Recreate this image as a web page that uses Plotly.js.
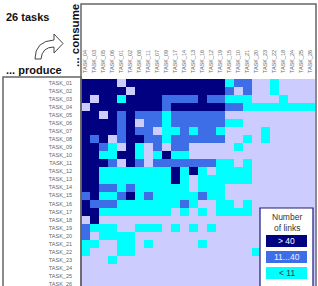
<!DOCTYPE html>
<html><head><meta charset="utf-8">
<script src="https://cdn.plot.ly/plotly-3.0.1.min.js"></script>
<style>html,body{margin:0;padding:0;overflow:hidden;background:#fff}</style>
</head><body><div id="chart" style="width:318px;height:290px"></div>
<script>
// consumers (columns), producers (rows)
const consumers = ['TASK_04','TASK_03','TASK_05','TASK_06','TASK_01','TASK_02','TASK_08','TASK_11','TASK_07','TASK_09','TASK_17','TASK_14','TASK_13','TASK_16','TASK_12','TASK_19','TASK_15','TASK_10','TASK_21','TASK_20','TASK_23','TASK_22','TASK_18','TASK_24','TASK_25','TASK_26'];
const producers = ['TASK_01','TASK_02','TASK_03','TASK_04','TASK_05','TASK_06','TASK_07','TASK_08','TASK_09','TASK_10','TASK_11','TASK_12','TASK_13','TASK_14','TASK_15','TASK_16','TASK_17','TASK_18','TASK_19','TASK_20','TASK_21','TASK_22','TASK_23','TASK_24','TASK_25','TASK_26'];
// link level: 0 = none, 1 = < 11, 2 = 11...40, 3 = > 40
const linkLevels = [
 [3,3,3,3,0,3,3,3,3,3,3,3,3,3,3,3,1,2,2,0,0,1,0,0,0,0],
 [3,3,3,3,3,0,3,3,3,3,3,3,3,3,3,3,2,0,2,0,0,1,0,0,0,0],
 [3,0,3,3,1,3,3,3,3,2,2,2,2,3,2,2,1,1,1,0,0,0,1,0,0,0],
 [0,3,3,3,3,3,3,3,3,2,3,3,3,3,3,3,2,2,1,1,1,1,1,1,1,1],
 [3,3,0,3,2,3,2,2,2,1,2,2,2,2,2,2,0,0,0,0,0,0,0,0,0,0],
 [3,3,3,3,2,3,0,2,2,1,2,2,2,2,2,2,1,1,0,0,0,0,0,0,0,0],
 [3,3,3,3,2,3,2,2,0,1,1,2,1,2,2,1,0,0,0,0,1,0,0,0,0,0],
 [3,2,3,0,2,3,3,2,2,1,2,2,2,2,2,2,0,0,1,0,1,0,0,0,0,0],
 [3,3,2,1,0,3,1,0,2,0,2,2,0,0,0,0,0,1,0,0,0,0,0,0,0,0],
 [3,3,1,1,3,3,1,0,1,3,1,1,0,0,0,0,0,0,0,0,0,0,0,0,0,0],
 [3,3,3,2,0,3,2,0,2,2,2,2,2,2,2,1,1,0,1,0,0,0,0,0,0,0],
 [3,3,1,1,1,1,1,1,1,1,3,1,3,1,0,1,1,1,1,0,0,0,0,0,0,0],
 [3,3,1,1,1,1,1,1,1,1,3,1,0,1,1,1,1,1,1,0,0,0,0,0,0,0],
 [3,3,2,2,1,2,1,1,1,1,1,1,0,1,1,1,0,0,0,0,0,0,0,0,0,0],
 [2,3,1,1,2,3,1,2,1,1,1,1,1,2,1,1,0,0,0,0,0,0,0,0,0,0],
 [3,2,2,2,1,1,1,1,1,1,1,2,1,0,0,1,1,0,1,0,0,0,0,0,0,0],
 [3,3,1,1,1,1,1,1,1,1,0,1,0,1,0,1,1,1,1,0,0,0,0,0,0,0],
 [0,3,0,0,0,0,0,0,0,0,0,0,0,0,0,0,0,0,0,0,0,0,0,0,0,0],
 [2,1,1,1,0,0,1,1,1,0,1,0,1,0,1,0,0,0,0,0,0,0,0,0,0,0],
 [2,0,1,1,1,1,0,0,0,0,0,0,0,0,0,0,0,0,0,0,0,0,0,0,0,0],
 [1,1,0,0,1,1,0,1,0,0,0,0,0,1,0,0,0,0,0,0,0,0,0,0,0,0],
 [1,0,0,0,1,1,0,0,0,0,0,0,0,0,0,0,0,0,0,1,0,0,0,0,0,0],
 [0,0,0,1,0,0,0,0,0,0,0,0,0,0,0,0,0,0,0,0,0,0,0,0,0,0],
 [0,0,0,0,0,0,0,0,0,0,0,0,0,0,0,0,0,0,0,0,0,0,0,0,0,0],
 [0,0,0,0,0,0,0,0,0,0,0,0,0,0,0,0,0,0,0,0,0,0,0,0,0,0],
 [0,0,0,0,0,0,0,0,0,0,0,0,0,0,0,0,0,0,0,0,0,0,0,0,0,0]
];
const legendLabels = ['> 40','11...40','< 11'];
const levelColors = ['#ccccff','#00ffff','#3d6ee8','#000080'];

// pixel helpers (layout geometry)
const W=318,H=290,L=81,R=3,T=79,B=2;
const PW=W-L-R, PH=H-T-B;
const px=x=>(x-L)/PW, py=y=>(H-B-y)/PH;

const cs=[];
levelColors.forEach((c,i)=>{cs.push([i/4,c]);cs.push([(i+1)/4,c]);});

const trace={type:'heatmap',x:consumers,y:producers,z:linkLevels,zmin:-0.5,zmax:3.5,
  colorscale:cs,showscale:false,hoverinfo:'skip',xgap:0,ygap:0};

const shapes=[];
shapes.push({type:'rect',xref:'paper',yref:'paper',x0:px(81),x1:px(316),y0:py(290),y1:py(4),line:{color:'#666',width:1.5},fillcolor:'rgba(0,0,0,0)',layer:'above'});
shapes.push({type:'rect',xref:'paper',yref:'paper',x0:px(3),x1:px(81),y0:py(290),y1:py(77),line:{color:'#666',width:1.5},fillcolor:'rgba(0,0,0,0)',layer:'above'});
function P(x,y){return px(x).toFixed(4)+','+py(y).toFixed(4);}
const arrowPath='M'+P(35,59)+' Q'+P(35,41)+' '+P(54,40)+' L'+P(54,34)+' L'+P(63,43.5)+' L'+P(54,53)+' L'+P(54,47)+' Q'+P(42,47)+' '+P(41,59)+' Z';
shapes.push({type:'path',xref:'paper',yref:'paper',path:arrowPath,line:{color:'#444',width:1},fillcolor:'#fff'});
shapes.push({type:'rect',xref:'paper',yref:'paper',x0:px(260),x1:px(313),y0:py(288),y1:py(208),line:{color:'#1a1a80',width:1.2},fillcolor:'#fff',layer:'above'});
const legColors=[levelColors[3],levelColors[2],levelColors[1]];
const legTextColors=['#fff','#eef','#333'];
const legY=[235,251,267];
const annotations=[];
const F='Arial, Liberation Sans, sans-serif';
legY.forEach((y,i)=>{
  shapes.push({type:'rect',xref:'paper',yref:'paper',x0:px(266),x1:px(307),y0:py(y+12),y1:py(y),line:{width:0},fillcolor:legColors[i],layer:'above'});
  annotations.push({xref:'paper',yref:'paper',x:px(286.5),y:py(y+6),text:legendLabels[i],showarrow:false,font:{family:F,size:8.5,color:legTextColors[i]},xanchor:'center',yanchor:'middle'});
});
annotations.push({xref:'paper',yref:'paper',x:px(286.5),y:py(217),text:'Number',showarrow:false,font:{family:F,size:8.5,color:'#333'},xanchor:'center',yanchor:'middle'});
annotations.push({xref:'paper',yref:'paper',x:px(286.5),y:py(227.5),text:'of links',showarrow:false,font:{family:F,size:8.5,color:'#333'},xanchor:'center',yanchor:'middle'});
annotations.push({xref:'paper',yref:'paper',x:px(27),y:py(17),text:'<b>26 tasks</b>',showarrow:false,font:{family:F,size:11,color:'#111'},xanchor:'center',yanchor:'middle'});
annotations.push({xref:'paper',yref:'paper',x:px(33.5),y:py(70.5),text:'<b>... produce</b>',showarrow:false,font:{family:F,size:11,color:'#111'},xanchor:'center',yanchor:'middle'});
annotations.push({xref:'paper',yref:'paper',x:px(75),y:py(36),text:'<b>... consume</b>',textangle:-90,showarrow:false,font:{family:F,size:11.5,color:'#111'},xanchor:'center',yanchor:'middle'});

const layout={width:W,height:H,margin:{l:L,r:R,t:T,b:B,pad:0},
  paper_bgcolor:'#fff',plot_bgcolor:'#fff',showlegend:false,
  font:{family:F},
  xaxis:{type:'category',side:'top',tickangle:-90,ticks:'',showgrid:false,zeroline:false,showline:false,
    tickfont:{size:5.5,color:'#666'},ticklabelstandoff:5,fixedrange:true},
  yaxis:{type:'category',autorange:'reversed',ticks:'',showgrid:false,zeroline:false,showline:false,
    tickfont:{size:5.5,color:'#666'},ticklabelstandoff:8,fixedrange:true},
  shapes:shapes,annotations:annotations};
Plotly.newPlot('chart',[trace],layout,{staticPlot:true,displayModeBar:false});
</script></body></html>
